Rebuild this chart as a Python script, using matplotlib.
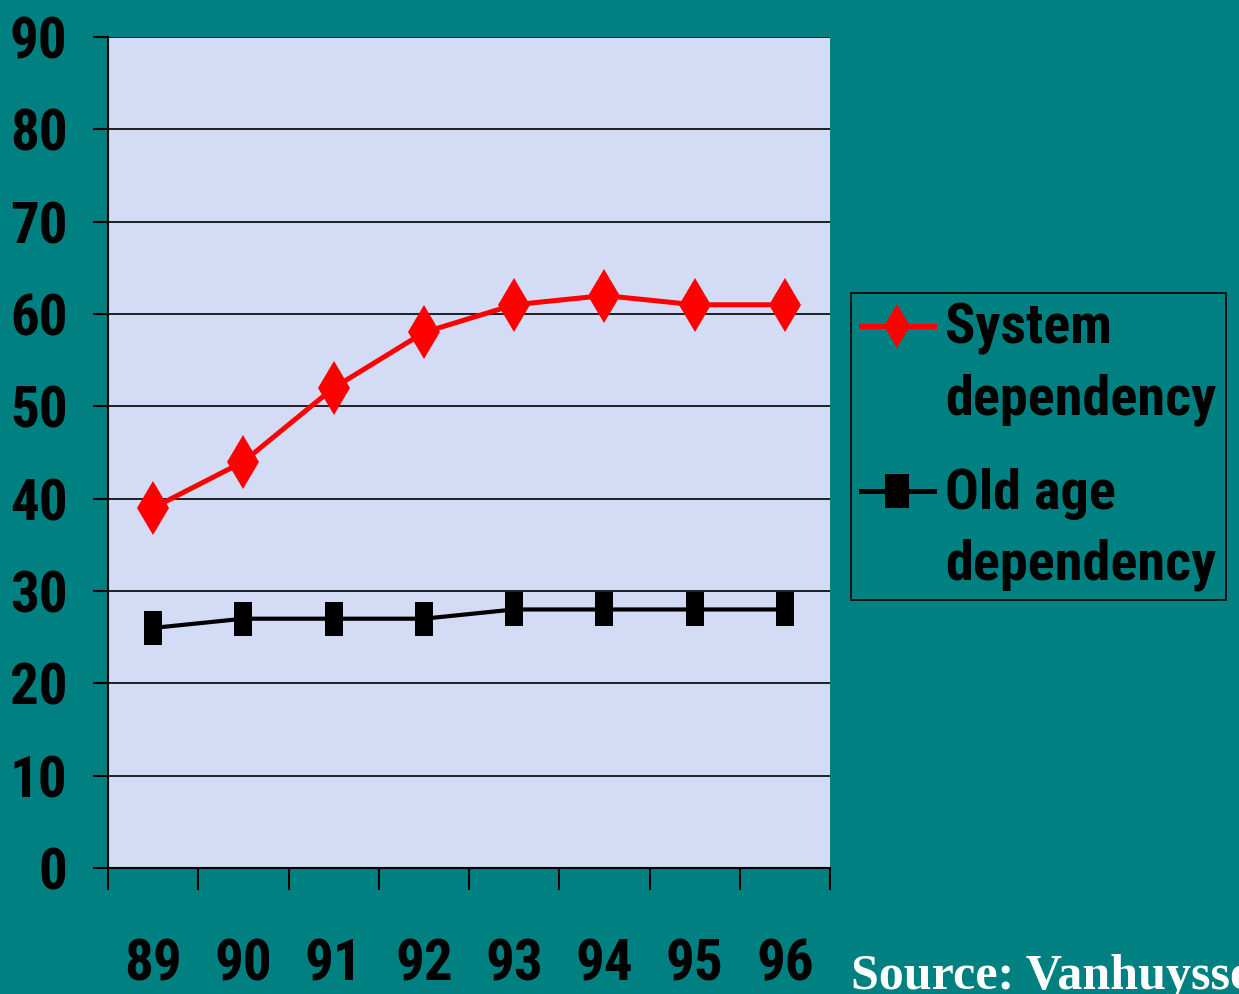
import matplotlib
matplotlib.use("Agg")
import matplotlib.pyplot as plt
from matplotlib import font_manager as fm
from matplotlib.path import Path
import numpy as np

# data
years = ["89", "90", "91", "92", "93", "94", "95", "96"]
system_dep = [39, 44, 52, 58, 61, 62, 61, 61]
old_age_dep = [26, 27, 27, 27, 28, 28, 28, 28]

teal = "#008080"

# bold condensed sans face (Roboto Condensed), else plain bold
narrow_file = None
for key in ["RobotoCondensed-Bold", "LiberationSansNarrow-Bold."]:
    for f in fm.fontManager.ttflist:
        if key in f.fname:
            narrow_file = f.fname
            break
    if narrow_file:
        break

def lab_font(size):
    if narrow_file:
        return fm.FontProperties(fname=narrow_file, size=size)
    return fm.FontProperties(family="Liberation Sans", weight="bold", size=size * 0.82)

def rect_marker(w):
    return Path([(-w, -0.5), (w, -0.5), (w, 0.5), (-w, 0.5), (-w, -0.5)],
                [Path.MOVETO, Path.LINETO, Path.LINETO, Path.LINETO, Path.CLOSEPOLY])

fig = plt.figure(figsize=(12.39, 9.94), dpi=100, facecolor=teal)
ax = fig.add_axes([108/1239, 126/994, 722/1239, 831/994])
ax.set_facecolor("#d3dcf4")

x = np.arange(len(years))
ax.plot(x, system_dep, color="#ff0000", lw=3.6, marker="d", ms=27,
        markeredgewidth=0, label="System\ndependency", zorder=3)
ax.plot(x, old_age_dep, color="black", lw=3, marker=rect_marker(0.27), ms=24,
        markeredgewidth=0, label="Old age\ndependency", zorder=3)

ax.set_xlim(-0.5, 7.5)
ax.set_ylim(0, 90)
ax.set_yticks(range(0, 91, 10))
ax.yaxis.grid(True, color="black", lw=1.2)
ax.set_axisbelow(True)

ax.set_xticks(x)
ax.set_xticklabels(years)
ax.set_xticks(np.arange(-0.5, 8, 1), minor=True)
ax.tick_params(axis="x", which="major", length=0, pad=50)
ax.tick_params(axis="x", which="minor", length=16, width=1.5, direction="out")
ax.tick_params(axis="y", length=11, width=1.5, pad=18)
for lab in ax.get_xticklabels() + ax.get_yticklabels():
    lab.set_fontproperties(lab_font(41))

for s in ["top", "right"]:
    ax.spines[s].set_visible(False)
for s in ["left", "bottom"]:
    ax.spines[s].set_linewidth(1.5)

leg = ax.legend(loc="upper left", bbox_to_anchor=(851/1239, 1-293/994),
                bbox_transform=fig.transFigure, borderaxespad=0,
                prop=lab_font(40.5),
                frameon=True, fancybox=False, facecolor=teal, edgecolor="black",
                handlelength=1.3, handletextpad=0.2, labelspacing=0.75,
                borderpad=0.17, framealpha=1)
leg.get_frame().set_linewidth(1.2)
for t in leg.get_texts():
    t.set_linespacing(1.45)
# Excel puts the legend key level with the first text line
h_red, h_blk = leg.legend_handles
h_red.set_markersize(22)
h_red.set_linewidth(3.6)
h_blk.set_marker(rect_marker(0.36))
h_blk.set_markersize(24)
h_blk.set_linewidth(3.6)
for h in (h_red, h_blk):
    h.set_ydata(np.asarray(h.get_ydata()) + 28)

fig.text(851/1239, 5/994, "Source: Vanhuysse", color="white",
         family=["Liberation Serif", "DejaVu Serif"], weight="bold",
         fontsize=36, ha="left", va="baseline")

fig.savefig("out.png", dpi=100, facecolor=teal)
